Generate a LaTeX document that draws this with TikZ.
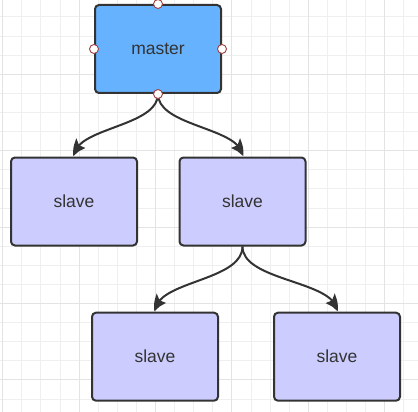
\documentclass[tikz,border=0pt]{standalone}
\usepackage{fontspec}
\setmainfont{Liberation Sans}
\usetikzlibrary{arrows.meta,calc,bending}
\definecolor{gridminor}{HTML}{EFEFEF}
\definecolor{gridmajor}{HTML}{E3E3E3}
\definecolor{masterfill}{HTML}{66B2FF}
\definecolor{slavefill}{HTML}{CCCCFF}
\definecolor{edgecol}{HTML}{333333}
\definecolor{portcol}{HTML}{A0403E}
\tikzset{
  box/.style={draw=edgecol, line width=2pt, rounded corners=4pt,
    minimum width=126pt, minimum height=88pt, inner sep=0pt,
    font=\fontsize{17.5}{20}\selectfont, text=edgecol},
  masterbox/.style={box, fill=masterfill},
  slavebox/.style={box, fill=slavefill},
  link/.style={draw=edgecol, line width=2pt,
    -{Stealth[length=15pt,width=13pt,inset=2.5pt,bend]}},
  port/.style={circle, draw=portcol, fill=white, line width=0.9pt,
    minimum size=9pt, inner sep=0pt},
}
\begin{document}
\begin{tikzpicture}[x=1pt,y=-1pt]
\useasboundingbox (0,0) rectangle (418,412);
\fill[white] (0,0) rectangle (418,412);
% grid
\foreach \i in {0,...,21} {
  \pgfmathsetmacro{\gx}{2.7+19.1*\i}
  \draw[gridminor, line width=1pt] (\gx,0) -- (\gx,412);
}
\foreach \i in {0,...,22} {
  \pgfmathsetmacro{\gy}{-2.1+19.1*\i}
  \draw[gridminor, line width=1pt] (0,\gy) -- (418,\gy);
}
\foreach \i in {0,...,5} {
  \pgfmathsetmacro{\gx}{2.7+76.4*\i}
  \draw[gridmajor, line width=1pt] (\gx,0) -- (\gx,412);
}
\foreach \i in {1,...,5} {
  \pgfmathsetmacro{\gy}{-2.1+76.4*\i}
  \draw[gridmajor, line width=1pt] (0,\gy) -- (418,\gy);
}
% nodes
\node[masterbox] (m) at (158,49) {master};
\node[slavebox] (s1) at (74,201.5) {slave};
\node[slavebox] (s2) at (242.5,201.5) {slave};
\node[slavebox] (s3) at (155,356.7) {slave};
\node[slavebox] (s4) at (337,356.7) {slave};
% links
\draw[link] (m.south) .. controls ($(m.south)+(0,33)$) and ($(s1.north)+(0,-29)$) .. (s1.north);
\draw[link] (m.south) .. controls ($(m.south)+(0,33)$) and ($(s2.north)+(0,-29)$) .. (s2.north);
\draw[link] (s2.south) .. controls ($(s2.south)+(0,35)$) and ($(s3.north)+(0,-31)$) .. (s3.north);
\draw[link] (s2.south) .. controls ($(s2.south)+(0,35)$) and ($(s4.north)+(0,-31)$) .. (s4.north);
% ports
\node[port] (pn) at (m.north) {};
\node[port] (pw) at (m.west) {};
\node[port] (pe) at (m.east) {};
\node[port] (ps) at (m.south) {};
\end{tikzpicture}
\end{document}
